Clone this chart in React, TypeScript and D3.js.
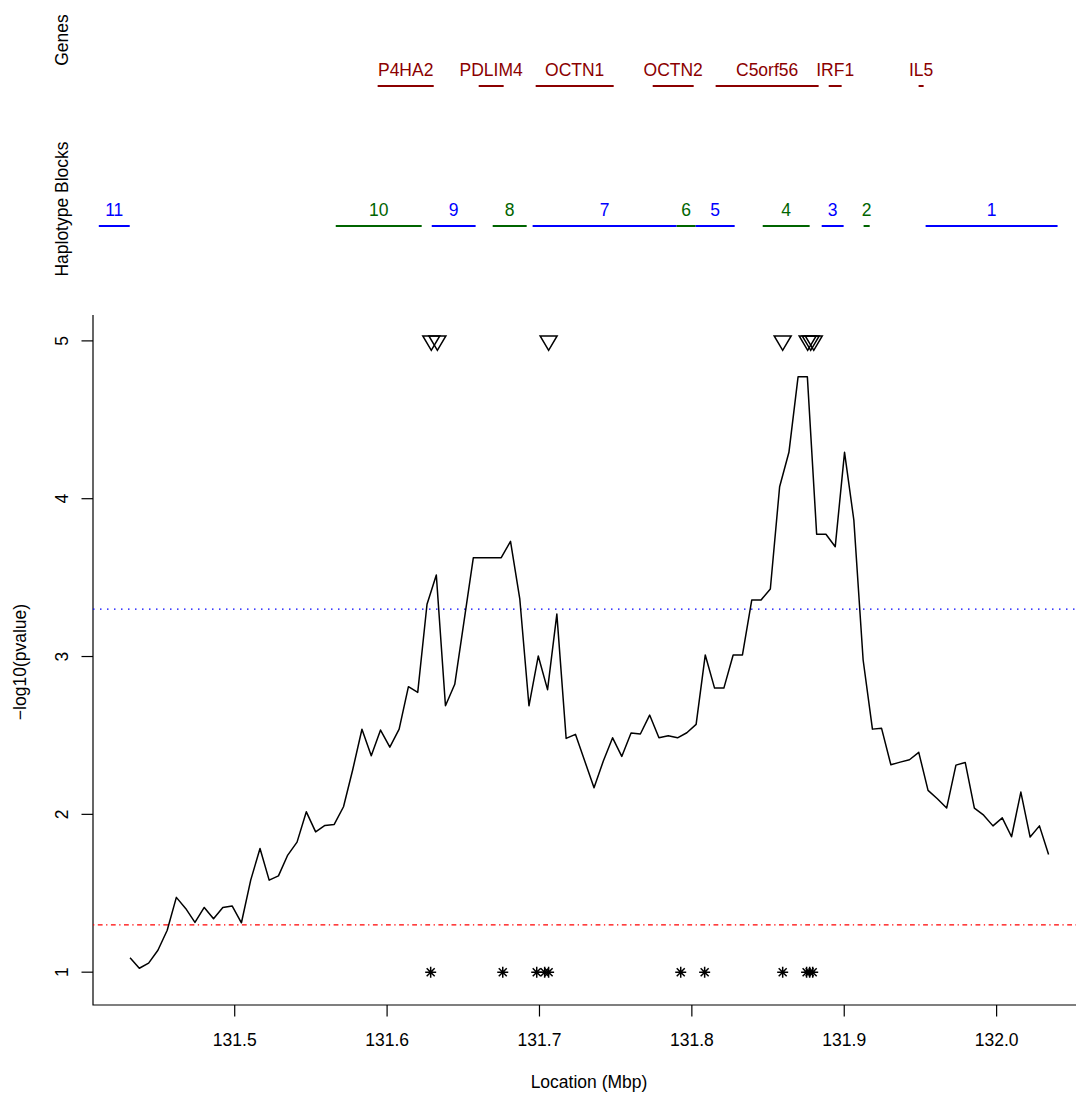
import React from 'react';
import {scaleLinear, line} from 'd3';

// association scan: -log10(p) along the region
const scanLocation = [
  131.4313, 131.4374, 131.4435, 131.4496, 131.4557, 131.4617, 131.4678, 131.4739, 131.4800, 131.4861,
  131.4922, 131.4983, 131.5044, 131.5105, 131.5166, 131.5226, 131.5287, 131.5348, 131.5409, 131.5470,
  131.5531, 131.5592, 131.5653, 131.5714, 131.5774, 131.5835, 131.5896, 131.5957, 131.6018, 131.6079,
  131.6140, 131.6201, 131.6262, 131.6323, 131.6383, 131.6444, 131.6505, 131.6566, 131.6627, 131.6688,
  131.6749, 131.6810, 131.6871, 131.6931, 131.6992, 131.7053, 131.7114, 131.7175, 131.7236, 131.7297,
  131.7358, 131.7419, 131.7480, 131.7540, 131.7601, 131.7662, 131.7723, 131.7784, 131.7845, 131.7906,
  131.7967, 131.8028, 131.8088, 131.8149, 131.8210, 131.8271, 131.8332, 131.8393, 131.8454, 131.8515,
  131.8576, 131.8637, 131.8697, 131.8758, 131.8819, 131.8880, 131.8941, 131.9002, 131.9063, 131.9124,
  131.9185, 131.9245, 131.9306, 131.9367, 131.9428, 131.9489, 131.9550, 131.9611, 131.9672, 131.9733,
  131.9794, 131.9854, 131.9915, 131.9976, 132.0037, 132.0098, 132.0159, 132.0220, 132.0281, 132.0341,
];
const scanValue = [
  1.091, 1.025, 1.057, 1.139, 1.266, 1.474, 1.404, 1.315, 1.410, 1.338,
  1.410, 1.420, 1.313, 1.583, 1.784, 1.583, 1.610, 1.742, 1.824, 2.016,
  1.889, 1.930, 1.936, 2.048, 2.281, 2.539, 2.371, 2.534, 2.426, 2.540,
  2.809, 2.773, 3.331, 3.517, 2.688, 2.824, 3.225, 3.626, 3.626, 3.626,
  3.626, 3.730, 3.363, 2.688, 3.003, 2.790, 3.269, 2.481, 2.507, 2.338,
  2.168, 2.338, 2.485, 2.367, 2.515, 2.509, 2.629, 2.485, 2.498, 2.485,
  2.517, 2.570, 3.010, 2.800, 2.800, 3.010, 3.010, 3.358, 3.358, 3.428,
  4.076, 4.294, 4.772, 4.772, 3.775, 3.775, 3.696, 4.294, 3.865, 2.978,
  2.540, 2.545, 2.314, 2.331, 2.346, 2.393, 2.152, 2.099, 2.040, 2.312,
  2.329, 2.040, 1.995, 1.927, 1.978, 1.858, 2.141, 1.856, 1.927, 1.746,
];

// markers drawn at y = 5 (triangles) and y = 1 (asterisks)
const triangleLocation = [131.629, 131.633, 131.706, 131.8596, 131.876, 131.878, 131.880];
const asteriskLocation = [
  131.6286, 131.6759, 131.6982, 131.7034, 131.706, 131.7927, 131.8084,
  131.8596, 131.8753, 131.8773, 131.8793,
];

const geneNames = ['P4HA2', 'PDLIM4', 'OCTN1', 'OCTN2', 'C5orf56', 'IRF1', 'IL5'];
const geneStart = [131.5938, 131.6601, 131.6975, 131.7743, 131.8156, 131.8898, 131.9488];
const geneEnd = [131.6306, 131.6765, 131.7487, 131.8012, 131.8832, 131.8983, 131.9521];

const blockNames = ['11', '10', '9', '8', '7', '6', '5', '4', '3', '2', '1'];
const blockStart = [131.4108, 131.5663, 131.6293, 131.6693, 131.6955, 131.7900, 131.8025, 131.8465, 131.8852, 131.9127, 131.9534];
const blockEnd = [131.4311, 131.6227, 131.6581, 131.6916, 131.7900, 131.8025, 131.8281, 131.8773, 131.8996, 131.9167, 132.0400];

const xTicks = [131.5, 131.6, 131.7, 131.8, 131.9, 132.0];
const yTicks = [1, 2, 3, 4, 5];
const thresholdHigh = 3.3;
const thresholdLow = 1.3;

const width = 1076;
const height = 1095;
const plot = {left: 93, right: 1085, top: 315, bottom: 1005};
const fontFamily = '"Liberation Sans", Arial, Helvetica, sans-serif';
const fontSize = 17.5;

const xScale = scaleLinear().domain([131.407, 132.058]).range([plot.left, plot.right]);
const yScale = scaleLinear().domain([0.792, 5.164]).range([plot.bottom, plot.top]);

const geneRow = {label: 76, bar: 86};
const blockRow = {label: 216, bar: 226};

export default function App() {
  const pathData = line<number>()
    .x((d, i) => xScale(scanLocation[i]))
    .y((d) => yScale(d))(scanValue);

  return (
    <svg
      width={width}
      height={height}
      style={{position: 'absolute', left: 0, top: 0, background: 'white'}}
      fontFamily={fontFamily}
      fontSize={fontSize}
    >
      {/* side labels of the two top tracks */}
      <text transform={`translate(68, 40) rotate(-90)`} textAnchor="middle">Genes</text>
      <text transform={`translate(68, 209) rotate(-90)`} textAnchor="middle">Haplotype Blocks</text>

      {geneNames.map((name, i) => {
        const x0 = xScale(geneStart[i]);
        const x1 = xScale(geneEnd[i]);
        return (
          <g key={name} fill="#8B0000" stroke="#8B0000">
            <line x1={x0} x2={x1} y1={geneRow.bar} y2={geneRow.bar} strokeWidth={2} />
            <text x={(x0 + x1) / 2} y={geneRow.label} textAnchor="middle" stroke="none">{name}</text>
          </g>
        );
      })}

      {blockNames.map((name, i) => {
        const x0 = xScale(blockStart[i]);
        const x1 = xScale(blockEnd[i]);
        const color = i % 2 === 0 ? '#0000FF' : '#006400';
        return (
          <g key={name} fill={color} stroke={color}>
            <line x1={x0} x2={x1} y1={blockRow.bar} y2={blockRow.bar} strokeWidth={2} />
            <text x={(x0 + x1) / 2} y={blockRow.label} textAnchor="middle" stroke="none">{name}</text>
          </g>
        );
      })}

      {/* axes, box type "l" */}
      <path
        d={`M${plot.left},${plot.top} V${plot.bottom} H${plot.right}`}
        fill="none"
        stroke="black"
        strokeWidth={1.2}
      />
      {xTicks.map((t) => (
        <g key={t} transform={`translate(${xScale(t)}, ${plot.bottom})`}>
          <line y1={0} y2={11.5} stroke="black" strokeWidth={1.2} />
          <text y={41} textAnchor="middle">{t.toFixed(1)}</text>
        </g>
      ))}
      {yTicks.map((t) => (
        <g key={t} transform={`translate(${plot.left}, ${yScale(t)})`}>
          <line x1={0} x2={-11.5} stroke="black" strokeWidth={1.2} />
          <text transform="translate(-25, 0) rotate(-90)" textAnchor="middle">{t}</text>
        </g>
      ))}
      <text x={(plot.left + plot.right) / 2} y={1088} textAnchor="middle">Location (Mbp)</text>
      <text transform={`translate(26, ${(plot.top + plot.bottom) / 2 + 2}) rotate(-90)`} textAnchor="middle">
        {'\u2212log10(pvalue)'}
      </text>

      {/* significance thresholds */}
      <line
        x1={plot.left}
        x2={plot.right}
        y1={yScale(thresholdHigh)}
        y2={yScale(thresholdHigh)}
        stroke="#0000FF"
        strokeWidth={1.3}
        strokeDasharray="1.5,5.5"
      />
      <line
        x1={plot.left}
        x2={plot.right}
        y1={yScale(thresholdLow)}
        y2={yScale(thresholdLow)}
        stroke="#FF0000"
        strokeWidth={1.3}
        strokeDasharray="1.3,3.5,4.8,3.5"
      />

      <path d={pathData ?? ''} fill="none" stroke="black" strokeWidth={1.5} strokeLinejoin="round" />

      {triangleLocation.map((loc, i) => (
        <path
          key={`tri-${i}`}
          transform={`translate(${xScale(loc)}, ${yScale(5)})`}
          d="M-8.5,-5 L8.5,-5 L0,9.5 Z"
          fill="none"
          stroke="black"
          strokeWidth={1.5}
        />
      ))}
      {asteriskLocation.map((loc, i) => (
        <path
          key={`ast-${i}`}
          transform={`translate(${xScale(loc)}, ${yScale(1)})`}
          d="M-5.5,0 H5.5 M0,-5.5 V5.5 M-4,-4 L4,4 M-4,4 L4,-4"
          fill="none"
          stroke="black"
          strokeWidth={1.5}
        />
      ))}
    </svg>
  );
}
